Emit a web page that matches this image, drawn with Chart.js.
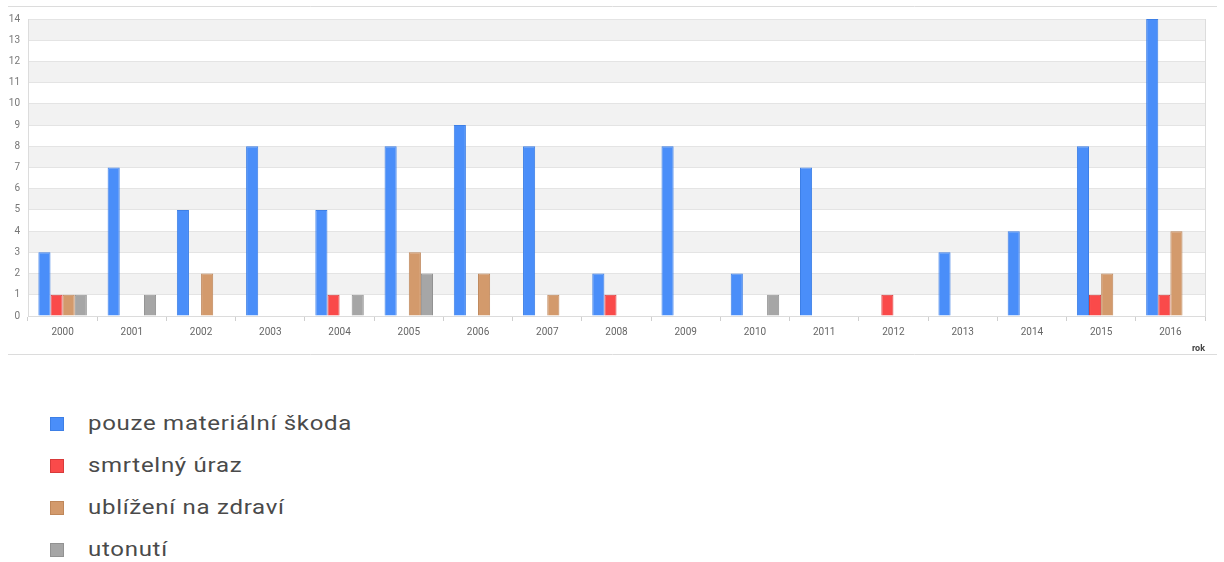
<!DOCTYPE html>
<html>
<head>
<meta charset="utf-8">
<script src="https://cdn.jsdelivr.net/npm/chart.js@4"></script>
<style>
  body { margin: 0; background: #fff; font-family: Roboto, sans-serif; }
  #wrap { position: absolute; left: 0; top: 0; width: 1224px; height: 362px; }
  #legend { position: absolute; left: 50px; top: 402px; margin: 0; padding: 0; list-style: none; }
  #legend li { height: 42px; line-height: 42px; font-size: 20px; color: #4a4a4a; white-space: nowrap; }
  #legend span.box { display: inline-block; width: 12px; height: 12px; border: 1px solid; vertical-align: -1px; margin-right: 24px; }
  #legend span.txt { display: inline-block; letter-spacing: 0.6px; transform: scaleX(1.2); transform-origin: 0 50%; }
</style>
</head>
<body>
<div id="wrap"><canvas id="myChart" width="1224" height="362"></canvas></div>
<ul id="legend"></ul>
<script>
var years = ["2000","2001","2002","2003","2004","2005","2006","2007","2008","2009","2010","2011","2012","2013","2014","2015","2016"];
var seriesNames = ["pouze materiální škoda", "smrtelný úraz", "ublížení na zdraví", "utonutí"];
var skoda    = [3, 7, 5, 8, 5, 8, 9, 8, 2, 8, 2, 7, 0, 3, 4, 8, 14];
var smrt     = [1, 0, 0, 0, 1, 0, 0, 0, 1, 0, 0, 0, 1, 0, 0, 1, 1];
var zdravi   = [1, 0, 2, 0, 0, 3, 2, 1, 0, 0, 0, 0, 0, 0, 0, 2, 4];
var utonuti  = [1, 1, 0, 0, 1, 2, 0, 0, 0, 0, 1, 0, 0, 0, 0, 0, 0];
var yTicks = [0,1,2,3,4,5,6,7,8,9,10,11,12,13,14];
var axisTitle = "rok";

var fills   = ["#4a8ef9", "#fa4a4a", "#d39a6c", "#a6a6a6"];
var borders = ["#3d7fe6", "#d83a3a", "#bf875a", "#929292"];
var values  = [skoda, smrt, zdravi, utonuti];

var datasets = seriesNames.map(function(n, i){
    return {
        label: n,
        data: values[i],
        backgroundColor: fills[i],
        borderColor: borders[i],
        borderWidth: 1
    };
});

// grey bands + frame lines
var bands = {
    id: "bands",
    beforeDraw: function(chart){
        var c = chart.ctx, a = chart.chartArea, y = chart.scales.y;
        c.save();
        c.fillStyle = "#f2f2f2";
        for (var v = 1; v < 14; v += 2) {
            var t = y.getPixelForValue(v + 1), b = y.getPixelForValue(v);
            c.fillRect(a.left, t, a.right - a.left, b - t);
        }
        c.strokeStyle = "#dcdcdc";
        c.lineWidth = 1;
        c.beginPath();
        c.moveTo(8, 6.5); c.lineTo(1217, 6.5);
        c.moveTo(8, 354.5); c.lineTo(1217, 354.5);
        c.moveTo(a.right + 0.5, a.top); c.lineTo(a.right + 0.5, a.bottom);
        c.stroke();
        c.restore();
    }
};

new Chart("myChart", {
    type: "bar",
    data: { labels: years, datasets: datasets },
    options: {
        responsive: false,
        animation: false,
        layout: { padding: { top: 19, right: 19, left: 0, bottom: 0 } },
        datasets: { bar: { categoryPercentage: 0.7, barPercentage: 1.0 } },
        plugins: { legend: { display: false }, tooltip: { enabled: false } },
        scales: {
            x: {
                grid: { drawOnChartArea: false, drawTicks: true, tickLength: 5, color: "#cfcfcf" },
                border: { color: "#dcdcdc" },
                ticks: { color: "#666", font: { family: "Roboto", size: 10 }, padding: 5, maxRotation: 0 },
                title: { display: true, text: axisTitle, align: "end", color: "#444",
                         font: { family: "Roboto", size: 9, weight: "bold" }, padding: { top: 0, bottom: 8 } },
                afterFit: function(s){ s.height = 46; }
            },
            y: {
                min: 0, max: 14,
                afterBuildTicks: function(s){ s.ticks = yTicks.map(function(v){ return { value: v }; }); },
                grid: { color: "#e4e4e4", drawTicks: false },
                border: { color: "#dcdcdc" },
                ticks: { color: "#777", font: { family: "Roboto", size: 10 }, padding: 8 },
                afterFit: function(s){ s.width = 28; }
            }
        }
    },
    plugins: [bands]
});

var ul = document.getElementById("legend");
seriesNames.forEach(function(n, i){
    var li = document.createElement("li");
    li.innerHTML = '<span class="box" style="background:' + fills[i] + ';border-color:' + borders[i] + '"></span>' +
                   '<span class="txt">' + n + '</span>';
    ul.appendChild(li);
});
</script>
</body>
</html>
